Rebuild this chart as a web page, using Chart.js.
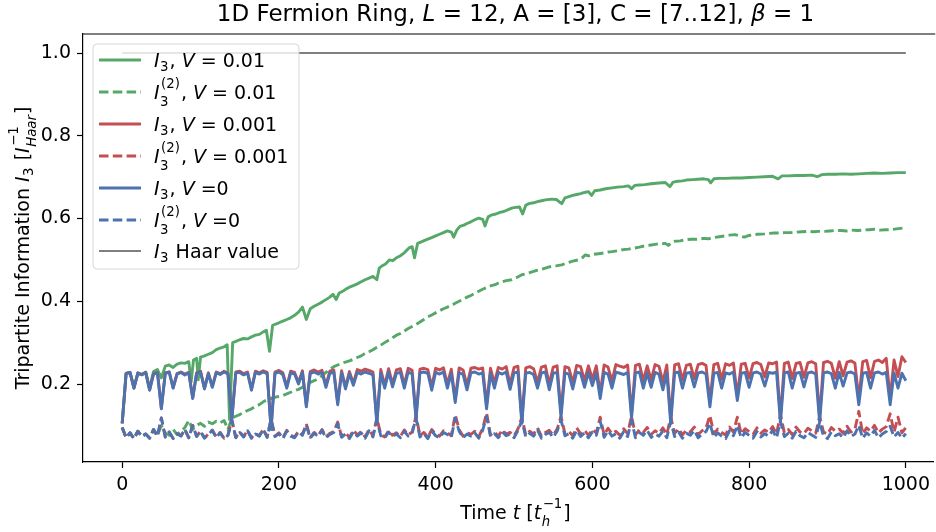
<!DOCTYPE html>
<html><head><meta charset="utf-8">
<script src="https://cdn.jsdelivr.net/npm/chart.js@4.4.0/dist/chart.umd.min.js"></script>
<style>html,body{margin:0;padding:0;background:#fff;}canvas{display:block;}</style>
</head><body>
<canvas id="c" width="936" height="532"></canvas>
<script>
// ---------- data ----------
const xTickValues = [0, 200, 400, 600, 800, 1000];
const yTickValues = [0.2, 0.4, 0.6, 0.8, 1.0];
const sampleTimes = Array.from({length: 201}, (_, i) => i * 5);

const blueSolid = [
0.105,0.225,0.228,0.19,0.226,0.222,0.228,0.185,0.224,0.227,
0.14,0.226,0.229,0.19,0.224,0.228,0.222,0.227,0.165,0.226,
0.229,0.188,0.225,0.192,0.227,0.223,0.229,0.224,0.115,0.227,
0.228,0.222,0.226,0.185,0.228,0.224,0.229,0.225,0.09,0.226,
0.229,0.223,0.19,0.227,0.224,0.2,0.228,0.145,0.226,0.229,
0.224,0.228,0.192,0.226,0.229,0.15,0.227,0.188,0.225,0.197,
0.228,0.224,0.229,0.226,0.222,0.105,0.227,0.19,0.229,0.193,
0.226,0.228,0.19,0.229,0.224,0.115,0.227,0.229,0.226,0.185,
0.228,0.224,0.229,0.19,0.226,0.155,0.228,0.223,0.186,0.227,
0.229,0.224,0.227,0.14,0.226,0.19,0.228,0.224,0.229,0.187,
0.227,0.229,0.105,0.226,0.228,0.223,0.19,0.227,0.229,0.186,
0.226,0.228,0.12,0.227,0.224,0.188,0.229,0.226,0.192,0.228,
0.196,0.227,0.165,0.228,0.224,0.19,0.229,0.226,0.223,0.228,
0.118,0.227,0.229,0.19,0.226,0.192,0.228,0.224,0.186,0.227,
0.105,0.227,0.229,0.19,0.226,0.228,0.193,0.227,0.229,0.224,
0.145,0.226,0.228,0.19,0.227,0.224,0.229,0.16,0.226,0.228,
0.192,0.227,0.229,0.224,0.195,0.228,0.226,0.229,0.108,0.227,
0.229,0.19,0.226,0.228,0.193,0.227,0.229,0.224,0.108,0.227,
0.229,0.225,0.19,0.228,0.195,0.227,0.229,0.224,0.15,0.226,
0.228,0.19,0.227,0.229,0.224,0.228,0.15,0.227,0.19,0.226,0.208];

const redSolid = [
0.105,0.226,0.228,0.19,0.227,0.223,0.228,0.186,0.225,0.228,
0.142,0.227,0.229,0.191,0.225,0.229,0.224,0.228,0.167,0.227,
0.231,0.19,0.227,0.194,0.229,0.225,0.231,0.226,0.117,0.229,
0.231,0.225,0.229,0.188,0.231,0.227,0.232,0.228,0.093,0.229,
0.233,0.227,0.194,0.231,0.228,0.204,0.232,0.149,0.23,0.234,
0.229,0.233,0.197,0.231,0.234,0.155,0.232,0.193,0.23,0.202,
0.235,0.231,0.236,0.233,0.229,0.11,0.235,0.197,0.237,0.2,
0.234,0.237,0.198,0.238,0.233,0.122,0.236,0.238,0.235,0.194,
0.238,0.234,0.239,0.2,0.236,0.163,0.239,0.234,0.197,0.238,
0.24,0.236,0.239,0.15,0.238,0.202,0.24,0.236,0.242,0.199,
0.24,0.243,0.113,0.239,0.242,0.237,0.204,0.241,0.244,0.2,
0.241,0.244,0.13,0.242,0.239,0.203,0.245,0.242,0.208,0.244,
0.212,0.244,0.178,0.246,0.241,0.207,0.247,0.243,0.24,0.246,
0.128,0.245,0.248,0.208,0.244,0.21,0.247,0.243,0.205,0.246,
0.115,0.246,0.249,0.21,0.245,0.248,0.213,0.247,0.25,0.245,
0.158,0.247,0.25,0.211,0.249,0.245,0.251,0.172,0.248,0.25,
0.214,0.249,0.252,0.247,0.217,0.251,0.249,0.253,0.118,0.25,
0.253,0.213,0.25,0.252,0.216,0.251,0.254,0.249,0.12,0.252,
0.255,0.25,0.214,0.254,0.22,0.253,0.256,0.251,0.163,0.254,
0.257,0.215,0.255,0.258,0.252,0.262,0.165,0.258,0.218,0.266,0.252];

const blueDashed = [
0.095,0.07,0.082,0.068,0.086,0.073,0.079,0.069,0.09,0.074,
0.118,0.072,0.084,0.068,0.08,0.074,0.09,0.07,0.1,0.073,
0.085,0.069,0.078,0.088,0.071,0.082,0.068,0.076,0.112,0.07,
0.083,0.072,0.087,0.069,0.079,0.074,0.09,0.071,0.114,0.073,
0.08,0.068,0.086,0.074,0.07,0.084,0.076,0.1,0.069,0.081,
0.073,0.088,0.07,0.078,0.083,0.104,0.071,0.079,0.068,0.085,
0.074,0.082,0.069,0.087,0.072,0.113,0.075,0.069,0.084,0.073,
0.079,0.07,0.086,0.074,0.081,0.118,0.072,0.08,0.068,0.087,
0.075,0.07,0.083,0.078,0.071,0.118,0.086,0.07,0.079,0.074,
0.082,0.069,0.088,0.122,0.073,0.08,0.07,0.085,0.075,0.079,
0.07,0.087,0.112,0.072,0.081,0.074,0.089,0.069,0.078,0.083,
0.071,0.086,0.113,0.075,0.08,0.069,0.088,0.073,0.082,0.07,
0.084,0.076,0.11,0.071,0.087,0.074,0.08,0.069,0.085,0.073,
0.112,0.07,0.083,0.076,0.088,0.071,0.079,0.074,0.086,0.07,
0.11,0.073,0.084,0.069,0.081,0.076,0.088,0.07,0.079,0.085,
0.105,0.071,0.082,0.074,0.068,0.087,0.075,0.1,0.07,0.083,
0.076,0.069,0.085,0.072,0.08,0.074,0.088,0.07,0.11,0.073,
0.081,0.069,0.086,0.075,0.07,0.083,0.077,0.071,0.108,0.074,
0.068,0.084,0.075,0.08,0.07,0.087,0.073,0.079,0.1,0.069,
0.082,0.074,0.088,0.07,0.079,0.085,0.098,0.072,0.083,0.069,0.08];

const redDashed = [
0.095,0.07,0.082,0.068,0.086,0.073,0.079,0.069,0.09,0.074,
0.118,0.072,0.084,0.069,0.08,0.075,0.09,0.07,0.1,0.074,
0.086,0.07,0.079,0.089,0.072,0.083,0.069,0.077,0.113,0.071,
0.084,0.073,0.088,0.07,0.08,0.075,0.091,0.072,0.116,0.074,
0.082,0.07,0.088,0.076,0.072,0.086,0.078,0.104,0.071,0.083,
0.075,0.09,0.072,0.081,0.085,0.108,0.074,0.082,0.071,0.088,
0.077,0.085,0.072,0.09,0.075,0.118,0.078,0.072,0.087,0.076,
0.082,0.073,0.089,0.077,0.084,0.123,0.075,0.083,0.071,0.09,
0.079,0.074,0.087,0.082,0.075,0.126,0.09,0.074,0.083,0.078,
0.086,0.073,0.092,0.13,0.077,0.084,0.074,0.089,0.079,0.083,
0.075,0.091,0.12,0.077,0.086,0.079,0.094,0.074,0.083,0.088,
0.076,0.091,0.122,0.08,0.085,0.075,0.094,0.079,0.088,0.076,
0.09,0.082,0.12,0.077,0.093,0.08,0.086,0.076,0.092,0.08,
0.122,0.077,0.09,0.083,0.095,0.078,0.087,0.081,0.094,0.078,
0.12,0.081,0.092,0.077,0.089,0.084,0.096,0.078,0.087,0.093,
0.124,0.08,0.091,0.083,0.077,0.096,0.084,0.12,0.079,0.092,
0.085,0.078,0.094,0.081,0.089,0.083,0.097,0.079,0.126,0.082,
0.09,0.078,0.096,0.084,0.08,0.093,0.087,0.081,0.122,0.084,
0.079,0.095,0.086,0.091,0.081,0.098,0.084,0.09,0.134,0.08,
0.094,0.086,0.1,0.082,0.091,0.097,0.128,0.084,0.12,0.082,0.095];

const greenSolidT = [0,5,10,15,20,25,30,35,40,45,50,55,60,65,70,75,80,85,88,91,95,97,100,105,110,115,120,125,130,134,137,141,145,150,155,160,165,170,175,180,184,188,192,200,205,210,215,220,225,230,235,240,245,250,255,260,265,269,273,277,282,286,290,295,300,305,310,315,320,325,328,332,336,341,345,350,355,360,366,370,373,377,381,386,390,395,400,405,410,415,420,423,427,431,436,440,445,450,455,460,463,467,472,477,482,487,492,497,502,507,511,515,519,525,530,535,540,548,554,558,561,565,570,575,580,585,590,595,599,603,610,617,625,632,640,646,650,654,660,667,675,685,693,699,703,709,715,720,728,735,742,748,751,755,762,770,780,790,800,810,820,830,837,842,850,860,870,880,887,893,900,910,920,930,940,950,960,970,980,990,1000];
const greenSolidV = [0.105,0.225,0.228,0.192,0.226,0.223,0.229,0.19,0.23,0.235,0.215,0.243,0.246,0.24,0.248,0.251,0.25,0.254,0.205,0.258,0.262,0.21,0.265,0.268,0.272,0.276,0.283,0.287,0.29,0.295,0.114,0.3,0.303,0.307,0.31,0.309,0.314,0.318,0.32,0.326,0.33,0.279,0.342,0.348,0.352,0.356,0.36,0.366,0.374,0.386,0.356,0.382,0.388,0.393,0.398,0.404,0.41,0.417,0.404,0.42,0.425,0.43,0.434,0.438,0.442,0.447,0.452,0.456,0.46,0.452,0.48,0.486,0.49,0.5,0.498,0.505,0.51,0.517,0.529,0.532,0.505,0.54,0.543,0.547,0.55,0.554,0.558,0.562,0.566,0.57,0.567,0.555,0.572,0.581,0.584,0.588,0.592,0.597,0.601,0.598,0.582,0.604,0.609,0.611,0.615,0.617,0.621,0.625,0.627,0.628,0.611,0.632,0.636,0.638,0.641,0.643,0.645,0.647,0.646,0.64,0.636,0.65,0.653,0.656,0.658,0.66,0.663,0.665,0.656,0.667,0.669,0.672,0.674,0.676,0.677,0.679,0.672,0.68,0.681,0.682,0.684,0.686,0.687,0.677,0.688,0.69,0.691,0.693,0.694,0.695,0.696,0.694,0.686,0.696,0.697,0.697,0.698,0.698,0.699,0.7,0.701,0.702,0.696,0.703,0.703,0.704,0.704,0.705,0.701,0.706,0.707,0.707,0.708,0.707,0.708,0.709,0.71,0.709,0.71,0.711,0.711];

const greenDashedT = [0,5,10,15,20,25,30,35,40,45,50,55,60,65,70,75,80,85,90,95,100,105,110,115,120,125,130,135,140,145,150,155,160,165,170,175,180,185,190,195,200,205,210,215,220,225,230,235,240,245,250,255,260,265,270,275,280,285,290,295,300,305,310,315,320,325,330,335,340,345,350,355,360,365,370,375,380,385,390,395,400,405,410,415,420,425,430,435,440,445,450,455,460,465,470,476,480,485,490,497,503,510,515,520,525,530,535,540,545,550,555,561,565,570,575,582,587,591,595,600,608,615,620,625,632,640,646,652,660,667,675,682,688,693,697,701,705,712,720,726,735,742,748,755,762,769,775,782,788,794,800,806,811,820,826,832,840,846,853,860,867,875,882,889,896,903,910,917,925,931,938,945,953,960,967,974,981,988,996,1000];
const greenDashedV = [0.095,0.07,0.082,0.068,0.086,0.073,0.079,0.07,0.09,0.076,0.1,0.082,0.076,0.09,0.078,0.085,0.095,0.112,0.09,0.1,0.105,0.098,0.108,0.104,0.11,0.106,0.112,0.09,0.118,0.122,0.126,0.132,0.136,0.14,0.146,0.15,0.157,0.162,0.165,0.168,0.17,0.172,0.176,0.18,0.184,0.187,0.192,0.198,0.204,0.208,0.213,0.22,0.228,0.236,0.242,0.246,0.25,0.253,0.256,0.26,0.264,0.268,0.274,0.278,0.283,0.289,0.294,0.3,0.306,0.312,0.318,0.322,0.328,0.334,0.339,0.344,0.35,0.356,0.362,0.367,0.372,0.377,0.382,0.386,0.39,0.395,0.4,0.405,0.41,0.414,0.419,0.424,0.429,0.433,0.437,0.44,0.444,0.447,0.45,0.452,0.457,0.464,0.466,0.469,0.472,0.475,0.477,0.48,0.483,0.485,0.486,0.488,0.491,0.494,0.497,0.5,0.505,0.512,0.51,0.513,0.515,0.517,0.519,0.52,0.522,0.525,0.526,0.528,0.531,0.534,0.536,0.538,0.539,0.54,0.535,0.542,0.545,0.546,0.549,0.55,0.55,0.552,0.551,0.554,0.556,0.558,0.56,0.561,0.558,0.555,0.559,0.561,0.562,0.563,0.564,0.565,0.565,0.566,0.566,0.567,0.568,0.569,0.568,0.569,0.569,0.57,0.571,0.571,0.57,0.572,0.571,0.572,0.573,0.574,0.572,0.573,0.573,0.575,0.577,0.577];

const haarT = [0, 1000];
const haarV = [1.0, 1.0];

// ---------- styling ----------
const GREEN = '#55A868', RED = '#C44E52', BLUE = '#4C72B0';
const FAM = "'DejaVu Sans', sans-serif";
const LW = 2.9;
const DASH = [9.5, 4.3];
const FS = 19;      // tick / legend / axis label font size
const FS_TITLE = 23;

function series(times, vals, color, dashed, order, width) {
  return {
    data: times.map((t, i) => ({x: t, y: vals[i]})),
    borderColor: color, borderWidth: width, borderDash: dashed ? DASH : [],
    borderJoinStyle: 'round', borderCapStyle: 'butt',
    pointRadius: 0, tension: 0, fill: false, order: order
  };
}

// ---------- rich text helpers ----------
function fnt(size, it) { return (it ? 'italic ' : '') + size + 'px ' + FAM; }
function layoutRich(ctx, parts, S) {
  let w = 0; const items = [];
  for (const p of parts) {
    if (p.t !== undefined) {
      ctx.font = fnt(S, p.it);
      items.push({text: p.t, font: ctx.font, dx: w, dy: 0});
      w += ctx.measureText(p.t).width;
    } else {
      const s = S * 0.7; let sw = 0;
      const both = p.sub !== undefined && p.sup !== undefined;
      if (p.sub !== undefined) {
        ctx.font = fnt(s, p.subIt);
        items.push({text: p.sub, font: ctx.font, dx: w + 0.5, dy: both ? 0.38 * S : 0.22 * S});
        sw = Math.max(sw, ctx.measureText(p.sub).width);
      }
      if (p.sup !== undefined) {
        ctx.font = fnt(s, p.supIt);
        items.push({text: p.sup, font: ctx.font, dx: w + 1.5, dy: -0.58 * S});
        sw = Math.max(sw, ctx.measureText(p.sup).width + 1);
      }
      w += sw + 0.08 * S;
    }
  }
  return {items, w};
}
function drawRich(ctx, parts, x, y, S, align) {
  const L = layoutRich(ctx, parts, S);
  const x0 = align === 'center' ? x - L.w / 2 : x;
  ctx.textAlign = 'left'; ctx.textBaseline = 'alphabetic'; ctx.fillStyle = '#000';
  for (const it of L.items) { ctx.font = it.font; ctx.fillText(it.text, x0 + it.dx, y + it.dy); }
}

const I3 = [{t: 'I', it: true}, {sub: '3'}];
const I32 = [{t: 'I', it: true}, {sub: '3', sup: '(2)'}];
const Vv = {t: 'V', it: true};
const legendEntries = [
  {color: GREEN, dashed: false, width: LW, parts: [...I3, {t: ', '}, Vv, {t: ' = 0.01'}]},
  {color: GREEN, dashed: true, width: LW, parts: [...I32, {t: ', '}, Vv, {t: ' = 0.01'}]},
  {color: RED, dashed: false, width: LW, parts: [...I3, {t: ', '}, Vv, {t: ' = 0.001'}]},
  {color: RED, dashed: true, width: LW, parts: [...I32, {t: ', '}, Vv, {t: ' = 0.001'}]},
  {color: BLUE, dashed: false, width: LW, parts: [...I3, {t: ', '}, Vv, {t: ' =0'}]},
  {color: BLUE, dashed: true, width: LW, parts: [...I32, {t: ', '}, Vv, {t: ' =0'}]},
  {color: '#000', dashed: false, width: 1.1, parts: [...I3, {t: ' Haar value'}]}
];
const legendRowY = [60, 92, 124, 156, 188, 220, 251];

const titleParts = [{t: '1D Fermion Ring, '}, {t: 'L', it: true}, {t: ' = 12, A = [3], C = [7..12], '}, {t: 'β', it: true}, {t: ' = 1'}];
const xLabelParts = [{t: 'Time '}, {t: 't', it: true}, {t: ' ['}, {t: 't', it: true}, {sub: 'h', subIt: true, sup: '−1'}, {t: ']'}];
const yLabelParts = [{t: 'Tripartite Information '}, {t: 'I', it: true}, {sub: '3'}, {t: ' ['}, {t: 'I', it: true}, {sub: 'Haar', subIt: true, sup: '−1'}, {t: ']'}];

const decor = {
  id: 'decor',
  afterDraw(chart) {
    const ctx = chart.ctx, a = chart.chartArea;
    ctx.save();
    // top spine
    ctx.strokeStyle = '#000'; ctx.lineWidth = 1.2; ctx.setLineDash([]);
    ctx.beginPath(); ctx.moveTo(a.left - 0.6, a.top); ctx.lineTo(a.right + 2, a.top); ctx.stroke();
    // legend frame
    const bx = 93, by = 44, bw = 206, bh = 225, r = 4;
    ctx.beginPath();
    ctx.moveTo(bx + r, by); ctx.lineTo(bx + bw - r, by); ctx.arcTo(bx + bw, by, bx + bw, by + r, r);
    ctx.lineTo(bx + bw, by + bh - r); ctx.arcTo(bx + bw, by + bh, bx + bw - r, by + bh, r);
    ctx.lineTo(bx + r, by + bh); ctx.arcTo(bx, by + bh, bx, by + bh - r, r);
    ctx.lineTo(bx, by + r); ctx.arcTo(bx, by, bx + r, by, r); ctx.closePath();
    ctx.fillStyle = 'rgba(255,255,255,0.8)'; ctx.fill();
    ctx.strokeStyle = 'rgba(204,204,204,0.8)'; ctx.lineWidth = 1; ctx.stroke();
    legendEntries.forEach((e, i) => {
      const y = legendRowY[i];
      ctx.strokeStyle = e.color; ctx.lineWidth = e.width; ctx.lineCap = 'butt';
      ctx.setLineDash(e.dashed ? DASH : []);
      ctx.beginPath(); ctx.moveTo(99, y); ctx.lineTo(141, y); ctx.stroke();
      ctx.setLineDash([]);
      drawRich(ctx, e.parts, 154, y + 7, FS, 'left');
    });
    // title
    drawRich(ctx, titleParts, 515.5, 21, FS_TITLE, 'center');
    // x label
    drawRich(ctx, xLabelParts, 515.5, 519, FS, 'center');
    // y label
    ctx.save(); ctx.translate(29, 248); ctx.rotate(-Math.PI / 2);
    drawRich(ctx, yLabelParts, 0, 0, FS, 'center');
    ctx.restore();
    ctx.restore();
  }
};

new Chart(document.getElementById('c'), {
  type: 'line',
  data: {datasets: [
    series(haarT, haarV, '#000', false, 0, 1.1),
    series(sampleTimes, blueDashed, BLUE, true, 1, LW),
    series(sampleTimes, blueSolid, BLUE, false, 2, LW),
    series(sampleTimes, redDashed, RED, true, 3, LW),
    series(sampleTimes, redSolid, RED, false, 4, LW),
    series(greenDashedT, greenDashedV, GREEN, true, 5, LW),
    series(greenSolidT, greenSolidV, GREEN, false, 6, LW)
  ]},
  options: {
    responsive: false, animation: false, devicePixelRatio: 1, parsing: false,
    layout: {padding: {left: 0, right: 0, top: 34, bottom: 0}},
    plugins: {legend: {display: false}, title: {display: false}, tooltip: {enabled: false}},
    scales: {
      x: {
        type: 'linear', min: -50, max: 1035,
        afterBuildTicks: s => { s.ticks = xTickValues.map(v => ({value: v})); },
        afterFit: s => { s.height = 70; },
        grid: {display: true, drawOnChartArea: false, drawTicks: true, tickLength: 6, tickWidth: 1.2, tickColor: '#000', color: '#000'},
        border: {display: true, color: '#000', width: 1.2},
        ticks: {color: '#000', font: {family: FAM, size: FS}, padding: 6, maxRotation: 0, autoSkip: false, callback: v => String(v)}
      },
      y: {
        type: 'linear', min: 0.0115, max: 1.046,
        afterBuildTicks: s => { s.ticks = yTickValues.map(v => ({value: v})); },
        afterFit: s => { s.width = 83; },
        grid: {display: true, drawOnChartArea: false, drawTicks: true, tickLength: 6, tickWidth: 1.2, tickColor: '#000', color: '#000'},
        border: {display: true, color: '#000', width: 1.2},
        ticks: {color: '#000', font: {family: FAM, size: FS}, padding: 6, autoSkip: false, callback: v => Number(v).toFixed(1)}
      }
    }
  },
  plugins: [decor]
});
</script>
</body></html>
